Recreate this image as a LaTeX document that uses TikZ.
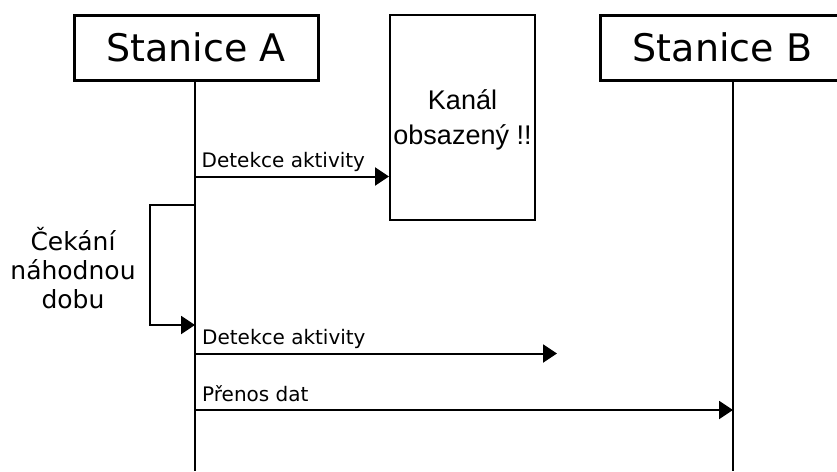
\documentclass[tikz,border=0pt]{standalone}
\usepackage{fontspec}
\setmainfont{DejaVu Sans}
\newfontfamily\arialfont{Liberation Sans}
\usetikzlibrary{arrows.meta}
\begin{document}
\begin{tikzpicture}[x=1pt,y=-1pt,
  station/.style={draw, line width=3pt, minimum width=244pt, minimum height=65pt,
    inner sep=0pt, font=\fontsize{38}{44}\selectfont},
  channelbox/.style={draw, line width=2pt, minimum width=145pt, minimum height=205pt, inner sep=0pt},
  lifeline/.style={line width=2pt},
  msg/.style={line width=2pt, -{Triangle[length=14pt,width=18pt]}},
  msglabel/.style={anchor=base west, inner sep=0pt, font=\fontsize{20}{24}\selectfont},
]
\useasboundingbox (0,0) rectangle (837,471);
\clip (0,0) rectangle (837,471);

% stations
\node[station] (A) at (196,47.5) {Stanice A};
\node[station] (B) at (722.5,47.5) {Stanice B};

% lifelines
\coordinate (aEnd) at (195,471);
\coordinate (bEnd) at (733,471);
\draw[lifeline] (aEnd |- A.south) -- (aEnd);
\draw[lifeline] (bEnd |- B.south) -- (bEnd);

% busy channel
\node[channelbox] (channel) at (462.5,117.5) {};
\node[align=center, inner sep=0pt, font=\arialfont\fontsize{27}{35}\selectfont] (busy) at (462.5,119.5) {Kanál\\obsazený !!};

% first carrier sense
\coordinate (m1) at (195,176.5);
\draw[msg] (m1) -- (channel.west |- m1);
\node[msglabel] (l1) at (201.5,167.5) {Detekce aktivity};

% random back-off loop
\coordinate (w1) at (195,205);
\coordinate (w2) at (195,325);
\draw[msg] (w1) -- (150,205) -- (150,325) -- (w2);
\node[align=center, inner sep=0pt, font=\fontsize{25}{29}\selectfont] (wait) at (73,268) {Čekání\\náhodnou\\dobu};

% second carrier sense
\coordinate (m2) at (195,353.5);
\coordinate (m2end) at (557,353.5);
\draw[msg] (m2) -- (m2end);
\node[msglabel] (l2) at (202,344) {Detekce aktivity};

% data transfer
\coordinate (m3) at (195,410);
\draw[msg] (m3) -- (bEnd |- m3);
\node[msglabel] (l3) at (202,401.5) {Přenos dat};
\end{tikzpicture}
\end{document}
